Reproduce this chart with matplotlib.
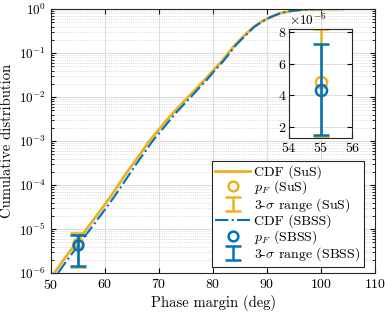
import matplotlib
matplotlib.use("Agg")
import matplotlib.pyplot as plt
from matplotlib.ticker import ScalarFormatter, LogLocator, NullFormatter

plt.rcParams["font.family"] = "serif"
plt.rcParams["font.serif"] = ["cmr10", "DejaVu Serif"]
plt.rcParams["mathtext.fontset"] = "cm"
plt.rcParams["axes.unicode_minus"] = False
plt.rcParams["axes.formatter.use_mathtext"] = True

ORANGE = "#EDB120"
BLUE = "#0072BD"

# CDF
sus_x = [50.6, 52.0, 53.5, 55.0, 56.6, 58.0, 59.5, 61.0, 62.5, 64.0, 65.5, 66.9, 68.2, 69.6,
         71.0, 72.5, 74.0, 75.4, 77.0, 78.5, 80.0, 81.5, 82.8, 84.0, 85.0, 86.2, 87.5, 89.0,
         90.5, 92.5, 94.5, 96.5, 98.5, 100.5, 102.5, 104.0]
sus_cdf = [1e-6, 1.75e-6, 3.1e-6, 5.5e-6, 1.0e-5, 1.7e-5, 3.0e-5, 5.4e-5, 1.0e-4, 1.9e-4,
           3.4e-4, 5.9e-4, 1.0e-3, 1.6e-3, 2.6e-3, 4.2e-3, 6.6e-3, 1.0e-2, 1.6e-2, 2.5e-2,
           4.0e-2, 6.3e-2, 0.1, 0.15, 0.2, 0.28, 0.39, 0.52, 0.65, 0.81, 0.91, 0.965, 0.99,
           0.998, 1.0, 1.0]
sbss_x = [51.3, 52.7, 54.2, 55.7, 57.3, 58.7, 60.2, 61.7, 63.2, 64.7, 66.1, 67.5, 68.8, 70.2,
          71.6, 73.0, 74.5, 75.9, 77.4, 78.9, 80.3, 81.8, 83.1, 84.2, 85.2, 86.4, 87.6, 89.1,
          90.6, 92.5, 94.5, 96.5, 98.5, 100.5]
sbss_cdf = [1e-6, 1.75e-6, 3.1e-6, 5.5e-6, 1.0e-5, 1.7e-5, 3.0e-5, 5.4e-5, 1.0e-4, 1.9e-4,
            3.4e-4, 5.9e-4, 1.0e-3, 1.6e-3, 2.6e-3, 4.2e-3, 6.6e-3, 1.0e-2, 1.6e-2, 2.5e-2,
            4.0e-2, 6.3e-2, 0.1, 0.15, 0.2, 0.28, 0.39, 0.52, 0.65, 0.81, 0.91, 0.965, 0.99,
            0.998]

# failure probability estimates at phase margin 55 deg
pf_x = 55
sus_pf, sus_lo, sus_hi = 4.85e-6, 1.35e-6, 8.2e-6
sbss_pf, sbss_lo, sbss_hi = 4.33e-6, 1.45e-6, 7.25e-6

fig = plt.figure(figsize=(3.85, 3.14), dpi=100)
ax = fig.add_axes([0.1325, 0.1306, 0.8415, 0.8404])


def draw_pf(a, ms, capsize):
    hs = []
    for pf, lo, hi, col in [(sus_pf, sus_lo, sus_hi, ORANGE),
                            (sbss_pf, sbss_lo, sbss_hi, BLUE)]:
        m, = a.plot([pf_x], [pf], "o", mfc="none", mec=col, mew=1.8, ms=ms)
        e = a.errorbar([pf_x], [pf], yerr=[[pf - lo], [hi - pf]], fmt="none", ecolor=col,
                       elinewidth=1.8, capsize=capsize, capthick=1.8)
        hs.append((m, e))
    return hs


l1, = ax.plot(sus_x, sus_cdf, "-", color=ORANGE, lw=2.0)
l2, = ax.plot(sbss_x, sbss_cdf, "-.", color=BLUE, lw=1.5)
(m1, e1), (m2, e2) = draw_pf(ax, 7, 6)
ax.set_yscale("log")
ax.set_xlim(50, 110)
ax.set_ylim(1e-6, 1)
ax.set_xticks(range(50, 111, 10))
ax.yaxis.set_major_locator(LogLocator(base=10, numticks=10))
ax.yaxis.set_minor_locator(LogLocator(base=10, subs=range(2, 10), numticks=20))
ax.yaxis.set_minor_formatter(NullFormatter())
ax.tick_params(which="both", direction="in", top=True, right=True, labelsize=10)
ax.tick_params(axis="y", labelsize=9.5)
ax.tick_params(which="minor", length=2)
ax.grid(True, which="major", color="#dcdcdc", lw=0.7)
ax.grid(True, which="minor", axis="y", color="#d0d0d0", lw=0.6, ls=":")
ax.set_axisbelow(True)
for s in ax.spines.values():
    s.set_color("#262626")
ax.set_xlabel("Phase margin (deg)", fontsize=10.5, labelpad=2)
ax.set_ylabel("Cumulative distribution", fontsize=10.5)
ax.yaxis.set_label_coords(-0.114, 0.5)

leg = ax.legend([l1, m1, e1, l2, m2, e2],
                ["CDF (SuS)", r"$p_F$ (SuS)", r"3-$\sigma$ range (SuS)",
                 "CDF (SBSS)", r"$p_F$ (SBSS)", r"3-$\sigma$ range (SBSS)"],
                loc="lower right", bbox_to_anchor=(0.966, 0.023), borderaxespad=0,
                fontsize=10, fancybox=False, framealpha=1, edgecolor="#262626",
                handlelength=2.5, handleheight=0.6, labelspacing=0.0, borderpad=0.25,
                handletextpad=0.3)
leg.get_frame().set_linewidth(0.8)

# inset zoom around the estimates
ins = fig.add_axes([0.751, 0.561, 0.164, 0.347])
draw_pf(ins, 8, 5.5)
ins.set_xlim(54, 56)
ins.set_ylim(1.3e-6, 8.2e-6)
ins.set_xticks([54, 55, 56])
ins.set_yticks([2e-6, 4e-6, 6e-6, 8e-6])
fmt = ScalarFormatter(useMathText=True)
fmt.set_powerlimits((-3, 3))
ins.yaxis.set_major_formatter(fmt)
ins.yaxis.get_offset_text().set_fontsize(9.5)
ins.tick_params(direction="in", top=True, right=True, labelsize=10, pad=2)
ins.grid(True, color="#dcdcdc", lw=0.7)
ins.set_axisbelow(True)
for s in ins.spines.values():
    s.set_color("#262626")

fig.savefig("out.png", dpi=100)
